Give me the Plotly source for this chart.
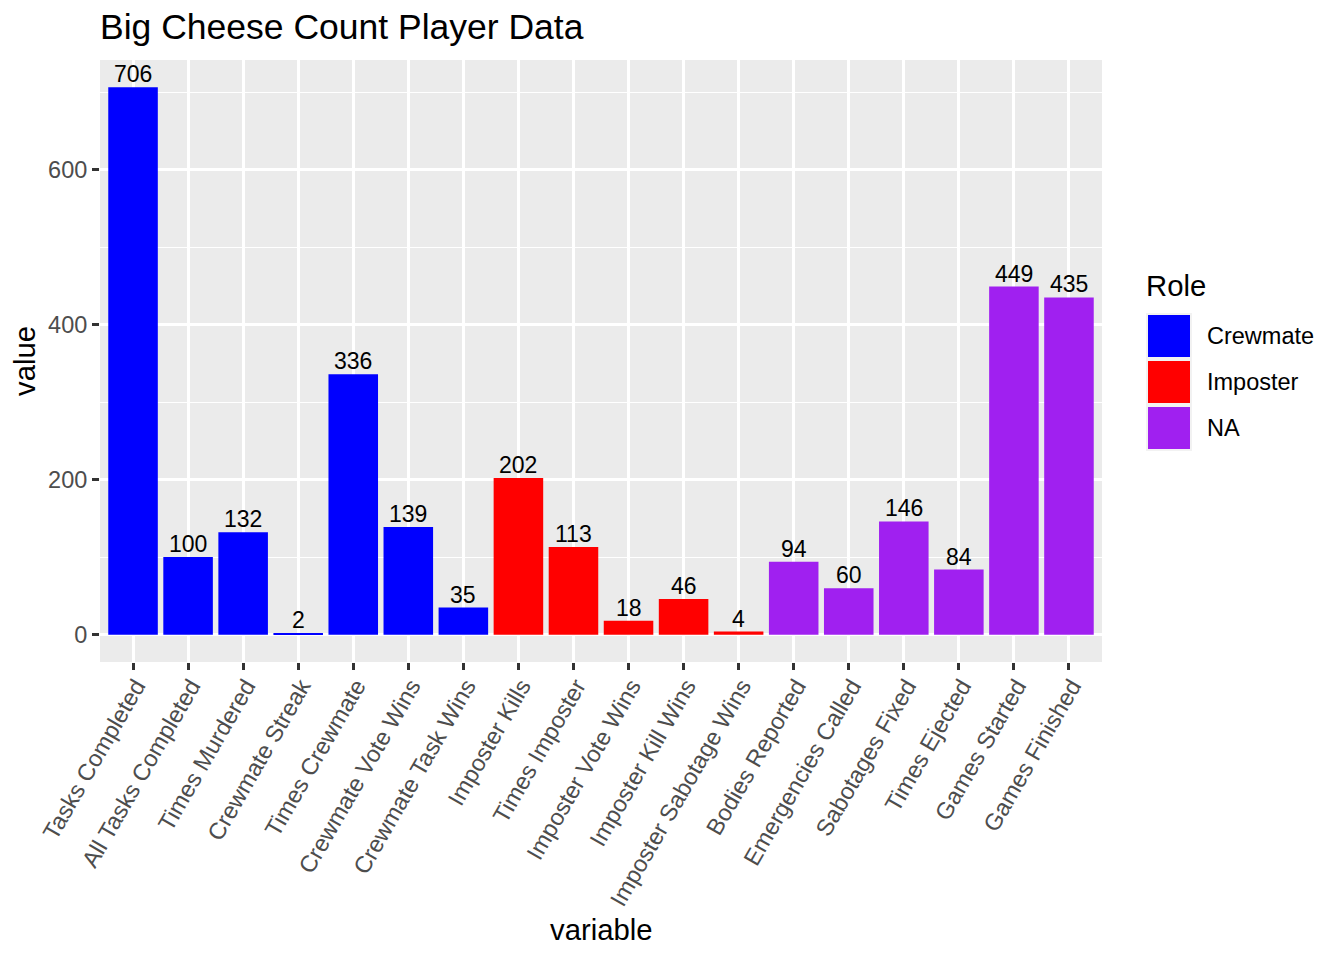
import plotly.graph_objects as go

categories = ["Tasks Completed", "All Tasks Completed", "Times Murdered", "Crewmate Streak",
              "Times Crewmate", "Crewmate Vote Wins", "Crewmate Task Wins", "Imposter Kills",
              "Times Imposter", "Imposter Vote Wins", "Imposter Kill Wins", "Imposter Sabotage Wins",
              "Bodies Reported", "Emergencies Called", "Sabotages Fixed", "Times Ejected",
              "Games Started", "Games Finished"]
values = [706, 100, 132, 2, 336, 139, 35, 202, 113, 18, 46, 4, 94, 60, 146, 84, 449, 435]
roles = ["Crewmate"] * 7 + ["Imposter"] * 5 + ["NA"] * 6
role_order = ["Crewmate", "Imposter", "NA"]
role_colors = {"Crewmate": "#0000FF", "Imposter": "#FF0000", "NA": "#A020F0"}

FONT = "Liberation Sans, Arial, sans-serif"
OFF = 8  # page body margin offset
W, H = 1344 - 2 * OFF, 960 - 2 * OFF
L, T = 100 - OFF, 60 - OFF
PW, PH = 1002, 602
R, B = W - L - PW, H - T - PH

def px2paper(x, y):
    # x, y in screenshot pixel coordinates
    x -= OFF
    y -= OFF
    return (x - L) / PW, (T + PH - y) / PH

fig = go.Figure()
for role in role_order:
    xs = [c for c, r in zip(categories, roles) if r == role]
    ys = [v for v, r in zip(values, roles) if r == role]
    fig.add_trace(go.Bar(
        x=xs, y=ys, name=role, width=0.9,
        marker=dict(color=role_colors[role], line=dict(width=0)),
        showlegend=False, hoverinfo="x+y",
    ))

for c, v in zip(categories, values):
    fig.add_annotation(x=c, y=v, text=str(v), showarrow=False, xanchor="center", yanchor="bottom",
                       yshift=-2, font=dict(family=FONT, size=23, color="black"))

fig.update_layout(
    width=W, height=H, barmode="overlay",
    margin=dict(l=L, r=R, t=T, b=B, autoexpand=False),
    paper_bgcolor="white", plot_bgcolor="#EBEBEB",
    font=dict(family=FONT),
    title=dict(text="Big Cheese Count Player Data", font=dict(size=35.5, color="black"),
               x=L / W, xanchor="left", xref="container", y=1 - (27 - OFF) / H, yanchor="middle"),
)
fig.update_xaxes(
    type="category", categoryorder="array", categoryarray=categories,
    range=[-0.6, len(categories) - 0.4],
    showgrid=True, gridcolor="white", gridwidth=2.8,
    ticks="outside", ticklen=7, tickwidth=2.8, tickcolor="#333333",
    tickangle=-60, tickfont=dict(size=23.5, color="#4D4D4D"),
    ticklabelstandoff=-7, ticklabelshift=3,
    showline=False, zeroline=False,
)
fig.update_yaxes(
    range=[-35.3, 741.3], tickvals=[0, 200, 400, 600],
    showgrid=True, gridcolor="white", gridwidth=2.8,
    minor=dict(tickvals=[100, 300, 500, 700], showgrid=True, gridcolor="white", gridwidth=1.4, ticks=""),
    ticks="outside", ticklen=7, tickwidth=2.8, tickcolor="#333333",
    tickfont=dict(size=23.5, color="#4D4D4D"),
    showline=False, zeroline=False,
)

# axis titles
x0, y0 = px2paper(601, 929)
fig.add_annotation(text="variable", x=x0, y=y0, xref="paper", yref="paper",
                   showarrow=False, font=dict(size=29.3, color="black"), xanchor="center", yanchor="middle")
x0, y0 = px2paper(24, 361)
fig.add_annotation(text="value", x=x0, y=y0, xref="paper", yref="paper", textangle=-90,
                   showarrow=False, font=dict(size=29.3, color="black"), xanchor="center", yanchor="middle")

# legend (drawn manually, ggplot style)
x0, y0 = px2paper(1144, 285)
fig.add_annotation(text="Role", x=x0, y=y0, xref="paper", yref="paper",
                   showarrow=False, font=dict(size=29.3, color="black"), xanchor="left", yanchor="middle")
key_top = 313
for i, role in enumerate(role_order):
    t = key_top + i * 46
    ax0, ay0 = px2paper(1146, t)
    ax1, ay1 = px2paper(1192, t + 46)
    fig.add_shape(type="rect", xref="paper", yref="paper", x0=ax0, y0=ay1, x1=ax1, y1=ay0,
                  fillcolor="#F2F2F2", line=dict(width=0), layer="above")
    bx0, by0 = px2paper(1148, t + 2)
    bx1, by1 = px2paper(1190, t + 44)
    fig.add_shape(type="rect", xref="paper", yref="paper", x0=bx0, y0=by1, x1=bx1, y1=by0,
                  fillcolor=role_colors[role], line=dict(width=0), layer="above")
    tx, ty = px2paper(1205, t + 23)
    fig.add_annotation(text=role, x=tx, y=ty, xref="paper", yref="paper",
                       showarrow=False, font=dict(size=23.5, color="black"), xanchor="left", yanchor="middle")

fig.write_html("out.html")
